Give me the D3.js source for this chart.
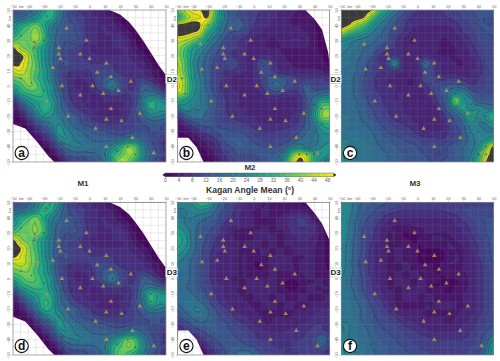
<!DOCTYPE html>
<html><head><meta charset="utf-8">
<script src="https://cdn.jsdelivr.net/npm/d3@7/dist/d3.min.js"></script>
<style>html,body{margin:0;padding:0;background:#fff}svg{display:block;font-family:"Liberation Sans",Arial,sans-serif}</style>
</head><body><svg id="c" width="500" height="361"></svg>
<script>
// Rows run from +50 km down to -50 km, columns from -50 km to +50 km, every 5 km. Values in degrees.
const kmTicks=[-50,-40,-30,-20,-10,0,10,20,30,40,50];
const scaleTicks=[0,4,8,12,16,20,24,28,32,36,40,44,48];
const panelLetters=["a","b","c","d","e","f"];
const columnTitles=["M1","M2","M3"];
const gridA=[
[12,12,14,18,26,32,22,12,9,7,6,5,4,1,0,0,0,0,0,0,0],
[16,16,20,24,30,30,20,13,10,9,7,6,5,4,1,0,0,0,0,0,0],
[22,28,33,38,30,22,16,13,12,9,7,6,6,5,3,1,0,0,0,0,0],
[26,34,38,42,34,20,15,14,12,10,7,6,6,6,5,3,1,0,0,0,0],
[36,38,38,42,34,20,14,12,13,10,7,6,6,6,8,5,2,0,0,0,0],
[52,42,38,34,26,18,14,11,10,8,6,6,6,6,6,6,3,1,0,0,0],
[54,52,44,34,26,18,13,10,9,8,7,6,6,6,6,6,5,3,1,0,0],
[52,50,44,36,26,18,12,14,9,9,8,8,8,8,7,7,6,5,2,0,0],
[46,48,42,36,28,20,12,9,8,8,8,10,10,9,7,7,7,6,4,2,0],
[38,40,42,34,28,20,12,8,6,6,7,10,13,15,10,8,8,8,6,3,1],
[30,34,40,38,30,24,14,9,6,6,6,9,14,22,12,8,8,15,12,7,3],
[18,28,32,34,32,24,16,9,7,6,6,6,8,10,9,8,10,16,18,16,10],
[6,16,24,28,30,28,18,11,7,6,6,5,6,6,6,7,10,20,30,25,22],
[3,8,16,24,30,28,18,14,9,7,6,6,6,6,6,7,12,18,30,26,26],
[1,3,10,18,26,24,20,16,14,11,8,6,6,6,6,8,11,15,20,20,18],
[0,1,4,10,16,20,24,18,15,12,11,9,8,8,8,9,10,12,13,13,12],
[0,0,1,5,10,16,26,22,18,16,14,13,12,11,10,11,12,12,12,12,11],
[0,0,0,1,5,10,20,24,20,18,16,15,15,15,16,20,20,15,12,10,8],
[0,0,0,0,1,5,12,18,20,20,18,18,18,22,30,40,36,22,14,10,7],
[0,0,0,0,0,1,6,12,14,14,15,16,20,30,36,42,38,24,16,12,8],
[0,0,0,0,0,0,1,7,10,10,12,14,18,30,44,40,30,20,14,10,6]];
const gridB=[
[38,46,50,50,52,36,20,14,12,10,9,8,7,6,5,5,4,3,0,0,0],
[30,40,46,48,50,34,22,14,12,10,9,7,7,6,5,4,3,3,2,0,0],
[52,53,54,50,40,28,18,14,16,11,8,7,6,5,5,4,4,3,2,0,0],
[53,52,50,46,30,22,16,12,11,9,7,6,5,5,5,5,5,4,3,1,0],
[46,44,40,32,24,17,12,9,8,7,5,5,4,4,5,6,6,5,3,1,0],
[42,36,28,24,18,14,11,9,8,6,5,5,4,4,4,4,4,4,3,1,0],
[42,34,26,20,15,12,9,8,7,6,5,6,6,5,4,3,3,3,3,2,0],
[44,36,24,18,14,11,9,13,8,6,6,12,10,6,5,4,3,3,3,3,1],
[46,36,26,18,14,10,8,8,7,6,6,10,10,7,5,5,5,5,5,4,3],
[46,40,26,20,14,10,8,6,5,5,6,9,13,14,12,10,8,8,8,8,7],
[50,40,28,20,14,10,7,6,5,5,6,8,13,18,13,10,10,14,10,10,10],
[44,38,26,20,16,11,8,7,6,5,5,6,9,10,8,7,8,14,14,16,18],
[30,26,22,20,16,13,9,7,6,5,5,5,5,5,5,5,7,12,20,30,30],
[18,22,20,20,16,12,9,7,6,6,5,5,5,5,5,5,7,12,24,38,40],
[8,14,18,18,14,12,9,8,7,6,6,5,5,5,5,6,8,14,26,40,42],
[3,6,10,13,13,12,10,10,9,8,7,6,6,6,6,7,9,14,20,30,32],
[2,3,5,8,10,12,13,12,12,11,9,8,8,8,9,10,12,16,18,24,26],
[0,0,2,4,6,8,12,14,14,13,11,10,9,10,10,12,16,18,18,22,22],
[0,0,0,2,4,6,10,12,14,14,13,12,12,12,14,20,24,20,20,24,26],
[0,0,0,0,2,5,8,10,12,12,12,13,14,14,20,36,46,42,30,28,24],
[0,0,0,0,0,3,6,9,10,11,11,12,14,16,26,44,52,46,30,22,16]];
const gridC=[
[53,53,53,53,50,36,26,20,14,10,8,7,7,8,9,10,11,12,13,13,12],
[53,53,53,50,38,26,20,15,11,8,7,7,7,7,8,9,10,11,12,12,12],
[53,50,42,36,26,20,16,12,9,7,6,6,6,6,6,7,9,10,12,12,12],
[44,36,30,26,20,17,14,10,8,6,5,5,5,5,5,6,8,9,11,12,12],
[26,22,20,18,17,15,13,9,6,4,4,5,5,4,4,5,6,8,10,11,12],
[22,20,18,16,15,12,9,8,6,5,5,5,5,4,4,4,5,7,9,11,11],
[20,18,17,15,13,8,7,8,6,5,5,6,5,4,4,4,5,6,8,10,11],
[19,18,16,14,10,8,9,24,7,5,6,16,10,6,5,4,4,5,7,10,11],
[18,17,16,13,10,8,7,8,6,5,5,11,9,6,5,5,5,6,7,9,11],
[18,17,15,12,9,7,6,6,5,4,5,11,10,7,8,8,7,6,8,10,11],
[18,17,15,12,9,7,6,6,5,4,5,7,10,12,13,14,13,9,9,10,11],
[18,17,15,12,10,8,7,6,6,5,5,6,8,12,16,25,22,15,12,12,12],
[18,17,16,14,10,9,7,6,6,5,5,5,6,10,18,40,26,22,14,14,14],
[18,17,16,15,12,10,8,7,6,5,5,5,5,8,14,22,26,22,24,20,20],
[18,18,17,15,13,11,9,7,7,6,5,5,5,6,10,14,20,30,22,26,34],
[18,18,17,16,15,12,11,9,8,7,6,5,5,5,8,12,16,22,20,20,24],
[19,18,18,17,16,14,12,11,10,9,7,5,6,6,8,10,14,20,22,20,20],
[20,20,19,18,17,15,14,13,12,11,10,9,9,8,9,11,14,18,22,24,30],
[22,20,20,19,18,16,15,14,13,13,12,10,12,10,12,14,16,18,24,38,52],
[24,22,20,19,18,17,16,15,14,13,13,12,10,10,12,14,16,20,30,46,54],
[26,22,20,19,18,17,16,15,14,13,13,13,12,12,13,14,16,22,34,50,54]];
const gridD=[
[12,12,14,20,28,32,24,13,9,7,6,5,4,1,0,0,0,0,0,0,0],
[16,16,20,24,32,30,20,13,10,9,7,6,5,4,1,0,0,0,0,0,0],
[22,28,33,38,30,22,17,13,12,9,7,6,6,5,3,1,0,0,0,0,0],
[26,34,38,40,34,20,15,14,12,10,7,6,6,6,5,3,1,0,0,0,0],
[36,38,38,40,34,20,14,12,13,10,7,6,6,6,8,5,2,0,0,0,0],
[52,42,38,34,26,18,14,11,10,8,6,6,6,6,6,6,3,1,0,0,0],
[54,50,42,34,26,18,13,10,9,8,7,6,6,6,6,6,5,3,1,0,0],
[52,48,42,36,26,18,12,14,9,9,8,8,8,8,7,7,6,5,2,0,0],
[44,46,42,36,28,20,12,9,8,8,8,10,10,9,7,7,7,6,4,2,0],
[38,40,40,34,28,20,12,8,6,6,7,10,13,15,10,8,8,8,6,3,1],
[30,34,38,36,30,24,14,9,6,6,6,9,14,20,12,8,8,15,12,7,3],
[18,28,32,34,32,24,16,9,7,6,6,6,8,10,9,8,10,16,18,16,12],
[6,16,24,28,30,28,18,11,7,6,6,5,6,6,6,7,10,20,32,26,24],
[3,8,16,24,32,30,18,14,9,7,6,6,6,6,6,7,12,18,32,26,26],
[1,3,10,18,30,28,20,16,14,11,8,6,6,6,6,8,11,15,20,20,18],
[0,1,4,10,18,24,24,18,15,12,11,9,8,8,8,9,10,12,13,13,12],
[0,0,1,5,10,16,26,22,18,16,14,13,12,11,10,11,12,12,12,12,11],
[0,0,0,1,5,10,20,24,20,18,16,15,15,15,16,20,20,15,12,10,8],
[0,0,0,0,1,5,12,18,20,20,18,18,18,22,30,38,34,22,14,10,7],
[0,0,0,0,0,1,6,12,14,14,15,16,20,30,36,40,36,24,16,12,8],
[0,0,0,0,0,0,1,7,10,10,12,14,18,30,38,34,28,20,14,10,6]];
const gridE=[
[20,22,25,32,30,20,14,10,8,6,5,4,4,3,2,2,2,1,0,0,0],
[20,20,22,24,22,16,12,9,7,5,4,4,4,3,3,4,4,3,1,0,0],
[20,20,20,18,16,14,10,8,6,5,4,4,4,4,5,7,8,7,3,1,0],
[24,20,18,15,13,12,8,6,6,5,4,4,4,4,5,7,8,8,6,2,0],
[28,24,18,14,12,10,7,5,3,3,4,4,4,4,4,6,7,7,6,3,1],
[30,26,18,14,11,8,6,5,4,4,4,4,4,4,4,5,6,6,5,3,1],
[28,24,18,13,10,7,6,5,4,4,4,4,4,4,4,4,5,5,4,3,1],
[24,20,16,13,9,6,5,5,4,4,3,4,4,4,4,4,4,4,4,3,1],
[20,18,15,12,9,6,5,5,4,4,2,2,4,4,4,4,4,5,4,3,1],
[18,17,15,12,9,6,5,5,4,4,3,2,4,4,4,4,4,6,4,3,2],
[17,17,15,12,9,6,5,4,4,4,4,4,4,4,3,2,3,4,4,4,3],
[16,16,15,12,10,7,6,5,4,4,4,4,4,4,2,1,2,4,4,4,4],
[17,17,16,14,11,8,6,5,4,4,4,4,4,4,4,3,4,4,4,4,4],
[17,18,18,16,13,9,7,5,5,4,4,4,4,4,4,4,4,4,4,4,5],
[14,17,20,20,16,12,9,7,5,5,4,4,4,4,4,4,4,4,5,6,6],
[12,14,17,18,16,13,11,9,7,6,5,4,4,4,4,4,5,5,7,7,7],
[8,10,13,15,15,14,13,11,9,8,6,5,4,5,5,5,6,7,8,8,7],
[5,7,9,11,13,14,13,12,11,10,8,7,6,6,6,7,7,8,9,9,8],
[0,0,4,7,10,12,13,13,12,11,9,8,8,7,7,8,8,9,11,18,10],
[0,0,0,3,7,10,12,14,14,13,12,10,9,8,8,8,9,10,10,12,8],
[0,0,0,1,4,8,11,14,18,20,16,12,10,9,8,8,8,10,9,8,6]];
const gridF=[
[24,22,18,15,14,13,12,11,10,9,9,9,10,10,10,9,9,9,9,9,9],
[24,22,17,14,13,11,10,9,8,8,8,8,8,8,9,10,10,11,11,11,11],
[24,21,16,13,11,9,7,6,6,6,6,6,6,6,6,7,9,10,11,12,12],
[24,20,15,12,10,7,5,4,4,4,5,5,5,5,5,6,7,9,11,12,13],
[24,20,15,11,9,6,4,4,2,2,2,4,4,4,4,5,6,8,10,12,13],
[23,19,14,11,8,6,4,4,3,2,2,3,4,4,4,4,5,7,9,11,13],
[22,18,14,11,7,5,4,4,4,3,2,2,2,2,4,4,4,6,8,11,13],
[22,18,14,10,7,5,4,4,4,3,2,2,1,1,3,4,4,5,8,10,13],
[22,18,13,10,7,5,4,4,4,4,2,2,2,2,4,4,4,5,7,10,12],
[21,18,14,10,7,5,4,4,4,4,4,3,2,2,3,3,4,5,7,9,12],
[20,17,14,11,8,5,4,4,4,4,4,4,3,2,2,2,3,5,7,9,11],
[20,17,14,11,8,6,4,4,4,4,4,4,2,2,2,2,3,5,7,9,11],
[20,18,15,12,9,7,5,4,4,4,4,4,4,3,2,3,4,5,7,9,11],
[20,18,16,14,11,9,6,4,4,4,4,4,4,4,4,4,4,5,7,9,11],
[20,19,17,15,12,10,8,5,4,4,4,4,4,4,4,4,4,5,7,9,11],
[20,19,17,15,13,11,10,8,6,5,5,4,4,4,4,4,5,6,8,10,12],
[20,20,18,16,14,12,11,10,8,7,6,5,5,5,4,5,6,7,9,10,12],
[20,20,18,17,15,13,12,11,10,9,8,7,6,6,6,6,7,8,10,12,14],
[22,20,19,17,16,14,13,12,11,10,9,9,8,8,8,8,8,9,11,14,20],
[24,21,19,18,16,15,14,13,12,11,10,9,9,9,9,9,9,10,11,16,26],
[26,22,20,18,17,15,14,14,13,12,11,11,10,10,10,10,10,11,12,18,26]];
// Seismic stations (km east, km north)
const stations=[[-15,38],[-2,30],[-20,25],[-20,21],[-19,18],[-6,21],[0,18],[11,15],[-35,27.5],[-34,11],[-24,12],[5,9],[14,6],[27,3],[-18,0],[2,0],[-6,-6],[9,-5],[19,-3],[-28,-10],[14,-15],[33,-18],[-14,-20],[11,-22],[21,-23],[4,-28],[28,-34],[11,-40],[42,-44]];
const hotDotsM1=[[-28,46],[-45,33],[-36,29],[-36,25],[-30,30],[-45,5],[-38,2],[-30,-3],[-30,-20],[-20,-25],[-18,-38],[-17,-45],[25,-40],[30,-45],[10,-45],[18,-43],[40,-10],[45,-5],[40,-15],[35,0],[15,5],[15,0],[5,15],[-10,30],[-17,15]];
const hotDotsM2=[[-45,50],[-47,5],[-45,-5],[-30,40],[-30,30],[-15,35],[-15,15],[5,15],[7,5],[15,0],[35,0],[40,-12],[45,-15],[45,-25],[40,-30],[30,-45],[35,-45],[45,-40],[40,-45]];
const hotDotsM3=[[-15,15],[-5,35],[-5,30],[5,15],[5,5],[25,-5],[25,-10],[35,-12],[35,-20],[45,-20],[40,-30],[40,-45],[45,-45],[45,-40],[15,-45]];
const hotDotsE=[[-15,30],[25,35],[35,28],[35,5],[-30,-20],[45,-40]];
const hotDotsF=[[-5,35],[-28,-25],[45,-40],[10,-5]];
// No-data corners (km)
const gapsM1=[[[13,50],[20,47],[26,42],[30,37],[35,30],[40,22],[45,14],[50,7],[50,50]],[[-50,-25],[-42,-28],[-34,-37],[-27,-46],[-23,-50],[-50,-50]]];
const gapsM2=[[[34,50],[40,44],[45,37],[49,22],[50,13],[50,50]],[[-50,-34],[-43,-34],[-37.5,-40.5],[-33,-50],[-50,-50]]];
const gapsE=[[[34,50],[40,43],[45,36],[50,25],[50,50]],[[-50,-34],[-43,-34],[-37.5,-40],[-33,-50],[-50,-50]]];
const panelX=[[13,166],[177.7,329.7],[341.3,493.7]];
const panelY=[[10,162],[202.3,355]];
const panels=[
 {grid:gridA,gaps:gapsM1,dots:hotDotsM1,col:0,row:0},
 {grid:gridB,gaps:gapsM2,dots:hotDotsM2,col:1,row:0},
 {grid:gridC,gaps:[],dots:hotDotsM3,col:2,row:0},
 {grid:gridD,gaps:gapsM1,dots:hotDotsM1,col:0,row:1},
 {grid:gridE,gaps:gapsE,dots:hotDotsE,col:1,row:1},
 {grid:gridF,gaps:[],dots:hotDotsF,col:2,row:1}];

const svg=d3.select("#c");
const fill=v=>v>=50?"#3a3a3a":d3.interpolateViridis(Math.max(v,0)/50);
const levels=d3.range(0,52,2);
const lineLevels=d3.range(4,52,4);
const factor=6;
function resample(g){
 const n=g.length,m=(n-1)*factor+1,out=new Float64Array(m*m);
 const cr=(a,b,c,d,t)=>0.5*(2*b+(c-a)*t+(2*a-5*b+4*c-d)*t*t+(3*b-a-3*c+d)*t*t*t);
 const at=(r,c)=>g[Math.max(0,Math.min(n-1,r))][Math.max(0,Math.min(n-1,c))];
 for(let i=0;i<m;i++){const r=Math.floor(i/factor),tr=i/factor-r;
  for(let j=0;j<m;j++){const c=Math.floor(j/factor),tc=j/factor-c;
   const v=[-1,0,1,2].map(k=>cr(at(r+k,c-1),at(r+k,c),at(r+k,c+1),at(r+k,c+2),tc));
   out[i*m+j]=cr(v[0],v[1],v[2],v[3],tr);
  }}
 return {values:out,m};
}
panels.forEach((p,idx)=>{
 const x=d3.scaleLinear().domain([-50,50]).range(panelX[p.col]);
 const y=d3.scaleLinear().domain([50,-50]).range(panelY[p.row]);
 const g=svg.append("g");
 const cid="clip"+idx;
 svg.append("clipPath").attr("id",cid).append("rect")
   .attr("x",x(-50)).attr("y",y(50)).attr("width",x(50)-x(-50)).attr("height",y(-50)-y(50));
 const body=g.append("g").attr("clip-path",`url(#${cid})`);
 body.append("rect").attr("x",x(-50)).attr("y",y(50)).attr("width",x(50)-x(-50)).attr("height",y(-50)-y(50)).attr("fill",fill(0));
 const {values,m}=resample(p.grid);
 const sx=d3.scaleLinear().domain([0.5,m-0.5]).range(x.range());
 const sy=d3.scaleLinear().domain([0.5,m-0.5]).range(y.range());
 const path=d3.geoPath(d3.geoTransform({point(a,b){this.stream.point(sx(a),sy(b));}}));
 const cont=d3.contours().size([m,m]);
 levels.forEach(l=>{
  body.append("path").attr("d",path(cont.contour(values,l))).attr("fill",fill(l>=50?50:l+1));
 });
 lineLevels.forEach(l=>{
  body.append("path").attr("d",path(cont.contour(values,l))).attr("fill","none").attr("stroke","#1c2b30").attr("stroke-opacity",.62).attr("stroke-width",.45);
 });
 p.gaps.forEach(poly=>{
  body.append("path").attr("d",d3.line().x(d=>x(d[0])).y(d=>y(d[1])).curve(d3.curveLinearClosed)(poly)).attr("fill","#fff");
 });
 const gridVals=d3.range(-50,51,5);
 body.selectAll(".gv").data(gridVals).join("line").attr("x1",d=>x(d)).attr("x2",d=>x(d)).attr("y1",y(50)).attr("y2",y(-50)).attr("stroke","#8a8a8a").attr("stroke-opacity",.38).attr("stroke-width",.45);
 body.selectAll(".gh").data(gridVals).join("line").attr("y1",d=>y(d)).attr("y2",d=>y(d)).attr("x1",x(-50)).attr("x2",x(50)).attr("stroke","#8a8a8a").attr("stroke-opacity",.38).attr("stroke-width",.45);
 body.selectAll(".dot").data(p.dots).join("circle").attr("cx",d=>x(d[0])).attr("cy",d=>y(d[1])).attr("r",.8).attr("fill","#333").attr("fill-opacity",.7);
 body.selectAll(".st").data(stations).join("path").attr("d",d3.symbol(d3.symbolTriangle,9)())
  .attr("transform",d=>`translate(${x(d[0])},${y(d[1])})`).attr("fill","#a8925c").attr("fill-opacity",.9);
 g.append("rect").attr("x",x(-50)).attr("y",y(50)).attr("width",x(50)-x(-50)).attr("height",y(-50)-y(50)).attr("fill","none").attr("stroke","#8c8c8c").attr("stroke-width",.7);
 const top=d3.axisTop(x).tickValues(kmTicks).tickSize(1.5).tickPadding(.5);
 const ax=g.append("g").attr("transform",`translate(0,${y(50)})`).call(top);
 ax.select(".domain").remove();
 ax.selectAll("text").attr("font-size",3.8).attr("fill","#666");
 ax.selectAll("line").attr("stroke","#888").attr("stroke-width",.4);
 const left=d3.axisLeft(y).tickValues(kmTicks).tickSize(1.5).tickPadding(.5);
 const ay=g.append("g").attr("transform",`translate(${x(-50)},0)`).call(left);
 ay.select(".domain").remove();
 ay.selectAll("text").attr("font-size",3.8).attr("fill","#666").attr("text-anchor","middle").attr("dy",0).attr("x",-3.4).attr("transform",d=>`rotate(-90,-3.4,0)`);
 ay.selectAll("line").attr("stroke","#888").attr("stroke-width",.4);
 g.append("text").attr("x",x(-44.5)).attr("y",y(50)-2).attr("text-anchor","middle").attr("font-size",3.8).attr("fill","#666").text("km");
 g.append("text").attr("transform",`translate(${x(-50)-1.6},${y(44.5)}) rotate(-90)`).attr("text-anchor","middle").attr("font-size",3.8).attr("fill","#666").text("km");
 // circled letter
 const lx=x(-50)+8.7,ly=y(-50)-9;
 g.append("circle").attr("cx",lx).attr("cy",ly).attr("r",6.6).attr("fill","#fff").attr("stroke","#111").attr("stroke-width",1.1);
 g.append("text").attr("x",lx).attr("y",ly+3.7).attr("text-anchor","middle").attr("font-size",12).attr("font-weight","bold").attr("fill","#111").text(panelLetters[idx]);
});
// section labels
[[165.6,74.6,"D2"],[330,74.6,"D2"],[165.6,268,"D3"],[330,268,"D3"]].forEach(([bx,by,t])=>{
 svg.append("rect").attr("x",bx).attr("y",by).attr("width",bx<200?12:11.4).attr("height",9).attr("fill","#fff").attr("stroke","#999").attr("stroke-width",.4);
 svg.append("text").attr("x",bx+(bx<200?6.2:5.6)).attr("y",by+7).attr("text-anchor","middle").attr("font-size",8).attr("font-weight","bold").attr("fill","#222").text(t);
});
// column titles
[[83,186],[250,170],[415,186]].forEach(([tx,ty],i)=>{
 svg.append("text").attr("x",tx).attr("y",ty).attr("text-anchor","middle").attr("font-size",8).attr("font-weight","bold").attr("fill","#333").text(columnTitles[i]);
});
// colourbar
const cb=d3.scaleLinear().domain([0,50]).range([165,333.8]);
const bandStarts=d3.range(0,50,2);
svg.selectAll(".cb").data(bandStarts).join("rect").attr("x",d=>cb(d)).attr("y",173).attr("width",d=>cb(d+2)-cb(d)+.3).attr("height",3.8).attr("fill",d=>fill(d+1));
svg.append("path").attr("d",`M${cb(0)},173 L${cb(0)-2.6},174.9 L${cb(0)},176.8 Z`).attr("fill","#222");
svg.append("path").attr("d",`M${cb(50)},173 L${cb(50)+2.6},174.9 L${cb(50)},176.8 Z`).attr("fill","#222");
svg.append("rect").attr("x",cb(0)).attr("y",173).attr("width",cb(50)-cb(0)).attr("height",3.8).attr("fill","none").attr("stroke","#555").attr("stroke-width",.4);
const cbAxis=svg.append("g").attr("transform","translate(0,176.8)").call(d3.axisBottom(cb).tickValues(scaleTicks).tickSize(1.2).tickPadding(.8));
cbAxis.select(".domain").remove();
cbAxis.selectAll("text").attr("font-size",5).attr("fill","#666");
cbAxis.selectAll("line").attr("stroke","#555").attr("stroke-width",.4);
svg.append("text").attr("x",250).attr("y",193).attr("text-anchor","middle").attr("font-size",8.6).attr("font-weight","bold").attr("fill","#333").text("Kagan Angle Mean (°)");
</script></body></html>
